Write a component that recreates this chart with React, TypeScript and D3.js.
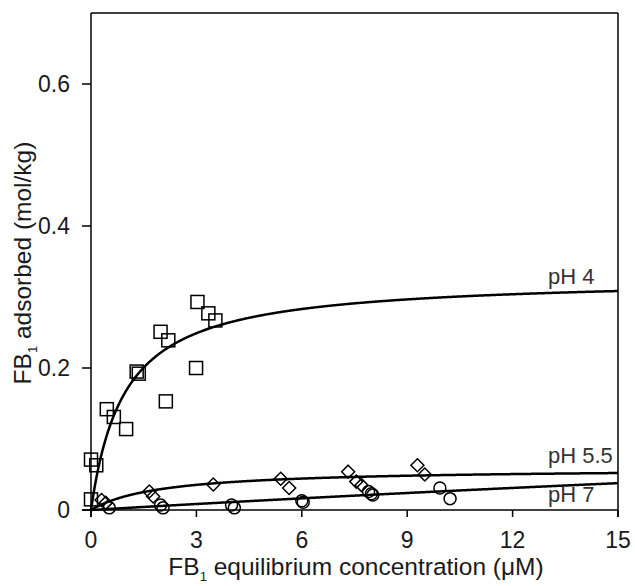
import React from "react";
import * as d3 from "d3";

// pH 4 (squares)
const pH4X = [0.0, 0.15, 0.0, 0.45, 0.65, 1.0, 1.3, 1.36, 1.98, 2.2, 2.13, 3.03, 3.34, 3.54, 2.99];
const pH4Y = [0.071, 0.063, 0.015, 0.142, 0.131, 0.114, 0.195, 0.192, 0.251, 0.239, 0.153, 0.293, 0.277, 0.267, 0.2];
// pH 5.5 (diamonds)
const pH55X = [0.3, 0.42, 1.66, 1.77, 3.48, 5.4, 5.64, 7.32, 7.55, 7.7, 9.29, 9.5];
const pH55Y = [0.014, 0.01, 0.026, 0.019, 0.036, 0.044, 0.031, 0.054, 0.04, 0.035, 0.063, 0.05];
// pH 7 (circles)
const pH7X = [0.52, 1.98, 2.05, 4.0, 4.08, 6.0, 6.04, 7.9, 7.98, 8.02, 9.93, 10.22];
const pH7Y = [0.003, 0.007, 0.003, 0.007, 0.003, 0.013, 0.011, 0.026, 0.023, 0.021, 0.031, 0.016];

// Langmuir fit parameters [Smax, K] for pH 4, 5.5, 7
const fitLabels = ["pH 4", "pH 5.5", "pH 7"];
const fitSmax = [0.328, 0.059, 0.29];
const fitK = [1.05, 0.5, 0.01];
const labelY = [0.33, 0.078, 0.023];

const xTicks = [0, 3, 6, 9, 12, 15];
const yTicks = [0, 0.2, 0.4, 0.6];

const W = 635, H = 586;
const L = 91, R = 618, T = 13, B = 510;

export default function App() {
  const x = d3.scaleLinear().domain([0, 15]).range([L, R]);
  const y = d3.scaleLinear().domain([0, 0.7]).range([B, T]);
  const font = "Liberation Sans, Arial, sans-serif";

  const xs = d3.range(0, 15.0001, 0.02);

  const curves = fitSmax.map((S, k) => {
    const K = fitK[k];
    return d3
      .line<number>()
      .x((v) => x(v))
      .y((v) => y((S * K * v) / (1 + K * v)))(xs) as string;
  });

  const diamond = (cx: number, cy: number, r: number) =>
    `M${cx},${cy - r}L${cx + r},${cy}L${cx},${cy + r}L${cx - r},${cy}Z`;

  return (
    <svg width={W} height={H} style={{ position: "absolute", left: 0, top: 0, background: "#fff" }} fontFamily={font}>
      {/* frame */}
      <line x1={L} y1={T} x2={R} y2={T} stroke="#000" strokeWidth={1.5} />
      <line x1={L} y1={T} x2={L} y2={B + 7} stroke="#000" strokeWidth={1.5} />
      <line x1={R} y1={T} x2={R} y2={B + 7} stroke="#000" strokeWidth={1.5} />
      <line x1={L - 9} y1={B} x2={R} y2={B} stroke="#000" strokeWidth={1.5} />
      {/* x ticks */}
      {xTicks.map((t) => (
        <g key={"x" + t}>
          <line x1={x(t)} x2={x(t)} y1={B} y2={B + 7} stroke="#000" strokeWidth={1.5} />
          <text x={x(t)} y={B + 38} fontSize={23} textAnchor="middle" fill="#1a1a1a">
            {t}
          </text>
        </g>
      ))}
      {/* y ticks */}
      {yTicks.map((t) => (
        <g key={"y" + t}>
          <line x1={L - 9} x2={L} y1={y(t)} y2={y(t)} stroke="#000" strokeWidth={1.5} />
          <text x={L - 21} y={y(t) + 8} fontSize={23} textAnchor="end" fill="#1a1a1a">
            {t === 0 ? "0" : t.toFixed(1)}
          </text>
        </g>
      ))}
      {/* axis titles */}
      <text x={356} y={575} fontSize={24.5} textAnchor="middle" fill="#1a1a1a">
        FB<tspan fontSize={13} dy={6}>1</tspan>
        <tspan dy={-6}> equilibrium concentration (μM)</tspan>
      </text>
      <text transform={`translate(31,263) rotate(-90)`} fontSize={24.5} textAnchor="middle" fill="#1a1a1a">
        FB<tspan fontSize={13} dy={6}>1</tspan>
        <tspan dy={-6}> adsorbed (mol/kg)</tspan>
      </text>
      {/* curves */}
      {curves.map((d, k) => (
        <path key={"c" + k} d={d} fill="none" stroke="#000" strokeWidth={2.5} />
      ))}
      {/* markers */}
      {pH4X.map((v, i) => (
        <rect key={"s" + i} x={x(v) - 6.5} y={y(pH4Y[i]) - 6.5} width={13} height={13} fill="none" stroke="#000" strokeWidth={1.5} />
      ))}
      {pH55X.map((v, i) => (
        <path key={"d" + i} d={diamond(x(v), y(pH55Y[i]), 6.5)} fill="none" stroke="#000" strokeWidth={1.5} />
      ))}
      {pH7X.map((v, i) => (
        <circle key={"o" + i} cx={x(v)} cy={y(pH7Y[i])} r={6} fill="none" stroke="#000" strokeWidth={1.5} />
      ))}
      {/* labels */}
      {fitLabels.map((l, k) => (
        <text key={"l" + k} x={548} y={y(labelY[k]) + 8} fontSize={22} fill="#333">
          {l}
        </text>
      ))}
    </svg>
  );
}
